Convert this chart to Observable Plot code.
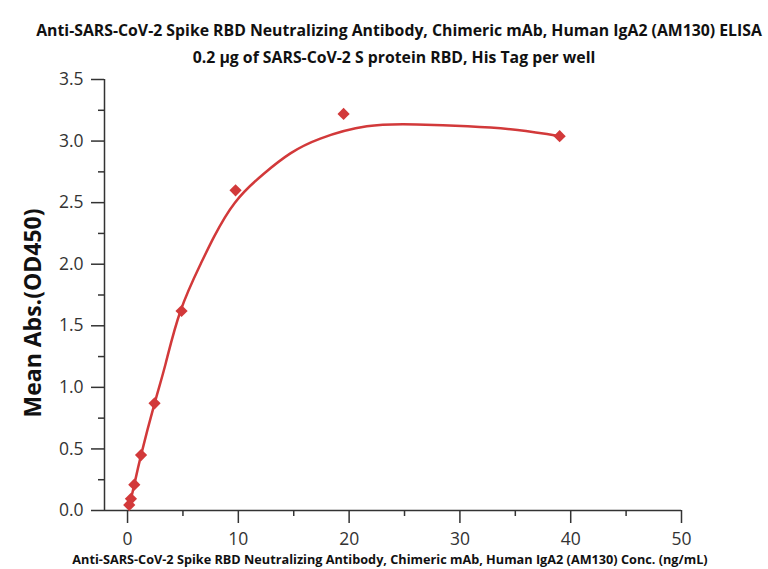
<!DOCTYPE html>
<html>
<head>
<meta charset="utf-8">
<script src="https://cdn.jsdelivr.net/npm/d3@7"></script>
<script src="https://cdn.jsdelivr.net/npm/@observablehq/plot@0.6"></script>
<style>
  html, body { margin: 0; padding: 0; background: #fff; }
  #wrap { position: relative; width: 768px; height: 569px; overflow: hidden; font-family: "Open Sans", sans-serif; background: #fff; }
  .title { position: absolute; left: 0; width: 768px; box-sizing: border-box; padding-left: 30px; text-align: center;
           font-weight: bold; font-size: 15.8px; line-height: 20px; color: #111; white-space: nowrap; z-index: 2; }
  #chart { position: absolute; left: 0; top: 60px; z-index: 1; }
</style>
</head>
<body>
<div id="wrap">
  <div class="title" style="top:20px">Anti-SARS-CoV-2 Spike RBD Neutralizing Antibody, Chimeric mAb, Human IgA2 (AM130) ELISA</div>
  <div class="title" style="top:47px; padding-left:20px">0.2 μg of SARS-CoV-2 S protein RBD, His Tag per well</div>
  <div id="chart"></div>
</div>
<script>
// Measured points (concentration ng/mL, mean absorbance)
const conc = [39, 19.5, 9.75, 4.875, 2.4375, 1.21875, 0.609, 0.305, 0.152];
const absorb = [3.04, 3.22, 2.60, 1.62, 0.87, 0.45, 0.21, 0.095, 0.045];
// Fitted curve
const fitConc = [0.152, 0.305, 0.609, 1.22, 2.44, 3.43, 4.78, 6.59, 7.79, 9.69, 12.3, 14.7, 17.4, 21.6, 26.1, 30.7, 35.2, 39];
const fitAbs  = [0.045, 0.095, 0.21, 0.45, 0.87, 1.19, 1.62, 2.0, 2.22, 2.50, 2.735, 2.90, 3.02, 3.12, 3.135, 3.12, 3.09, 3.04];
// Axis ticks
const xTicks = [0, 10, 20, 30, 40, 50];
const xMinor = [5, 15, 25, 35, 45];
const yTicks = [0, 0.5, 1.0, 1.5, 2.0, 2.5, 3.0, 3.5];
const yMinor = [0.25, 0.75, 1.25, 1.75, 2.25, 2.75, 3.25];
const xLabel = "Anti-SARS-CoV-2 Spike RBD Neutralizing Antibody, Chimeric mAb, Human IgA2 (AM130) Conc. (ng/mL)";
const yLabel = "Mean Abs.(OD450)";

const points = conc.map((c, i) => ({x: c, y: absorb[i]}));
const fit = fitConc.map((c, i) => ({x: c, y: fitAbs[i]}));
const xMin = -2.08, xMax = 50, yMin = 0, yMax = 3.5;
const red = "#d2393a";
const axisColor = "#333";

const plot = Plot.plot({
  width: 768,
  height: 509,
  marginTop: 19,
  marginBottom: 59,
  marginLeft: 104,
  marginRight: 87,
  style: {fontFamily: "Open Sans", background: "transparent", overflow: "visible"},
  x: {domain: [xMin, xMax]},
  y: {domain: [yMin, yMax]},
  marks: [
    Plot.axisX({ticks: xTicks, tickSize: 13, tickPadding: 9, fontSize: 17.5, color: axisColor, strokeWidth: 1.5, label: null, tickFormat: d3.format("d")}),
    Plot.axisX({ticks: xMinor, tickSize: 6, text: null, color: axisColor, strokeWidth: 1.5, label: null}),
    Plot.axisY({ticks: yTicks, tickSize: 13, tickPadding: 8, fontSize: 17.5, color: axisColor, strokeWidth: 1.5, label: null, tickFormat: d3.format(".1f")}),
    Plot.axisY({ticks: yMinor, tickSize: 6, text: null, color: axisColor, strokeWidth: 1.5, label: null}),
    Plot.ruleY([yMin], {x1: xMin, x2: xMax, stroke: axisColor, strokeWidth: 1.5}),
    Plot.ruleX([xMin], {y1: yMin, y2: yMax, stroke: axisColor, strokeWidth: 1.5}),
    Plot.line(fit, {x: "x", y: "y", stroke: red, strokeWidth: 2.5, curve: "natural"}),
    Plot.dot(points, {x: "x", y: "y", symbol: "diamond2", r: 5.5, fill: red, stroke: "none"}),
    Plot.text([xLabel], {frameAnchor: "bottom", dy: 53, dx: -3, fontSize: 12.7, fontWeight: "bold", fill: "#111"}),
    Plot.text([yLabel], {frameAnchor: "left", dx: -71, dy: 18, rotate: -90, textAnchor: "middle", fontSize: 23, fontWeight: "bold", fill: "#111"})
  ]
});
document.getElementById("chart").appendChild(plot);
</script>
</body>
</html>
